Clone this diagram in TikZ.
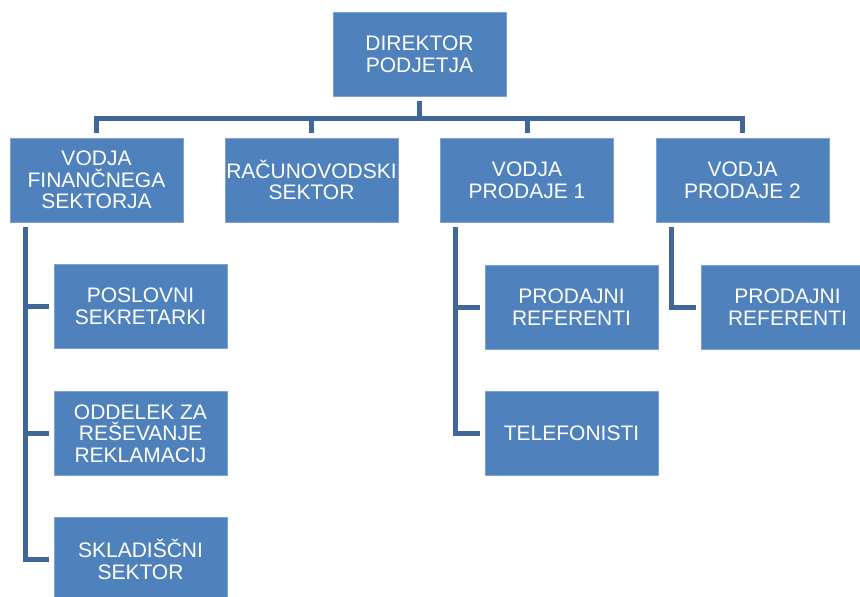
\documentclass[tikz,border=0pt]{standalone}
\usepackage{fontspec}
\setmainfont{Liberation Sans}
\definecolor{boxblue}{HTML}{4F81BD}
\definecolor{boxedge}{HTML}{7FA3D1}
\definecolor{linkblue}{HTML}{41679A}
\begin{document}
\begin{tikzpicture}
    [x=0.75pt, y=-0.75pt,
     unit/.style={fill=boxblue, draw=boxedge, line width=0.4pt, text=white,
                  minimum width=129.75pt, minimum height=63pt, inner sep=0pt,
                  outer sep=3.75pt, align=center,
                  font=\fontsize{15.75}{16.2}\selectfont},
     link/.style={draw=linkblue, line width=3.75pt}]
    \useasboundingbox (0, 0) rectangle (860, 596);
    \node[unit] (dir) at (419.5, 54) {DIREKTOR\\PODJETJA};
    \node[unit] (fin) at (96.5, 180) {VODJA\\FINANČNEGA\\SEKTORJA};
    \node[unit] (rac) at (311.5, 180) {RAČUNOVODSKI\\SEKTOR};
    \node[unit] (vp1) at (527, 180) {VODJA\\PRODAJE 1};
    \node[unit] (vp2) at (742.5, 180) {VODJA\\PRODAJE 2};
    \node[unit] (sek) at (140.5, 306.5) {POSLOVNI\\SEKRETARKI};
    \node[unit] (rek) at (140.5, 433.5) {ODDELEK ZA\\REŠEVANJE\\REKLAMACIJ};
    \node[unit] (skl) at (140.5, 559.5) {SKLADIŠČNI\\SEKTOR};
    \node[unit] (ref1) at (571.5, 307) {PRODAJNI\\REFERENTI};
    \node[unit] (tel) at (571.5, 433.5) {TELEFONISTI};
    \node[unit] (ref2) at (787.5, 307) {PRODAJNI\\REFERENTI};
    \coordinate (bus) at (419.5, 118);
    \draw[link] (dir) -- (bus);
    \draw[link] (fin.north) |- (bus) -| (vp2.north);
    \foreach \n in {rac, vp1}
        \draw[link] (\n.north) -- (\n.north |- bus);
    \coordinate (fintop) at ([xshift=15pt]fin.south west);
    \coordinate (vp1top) at ([xshift=15pt]vp1.south west);
    \coordinate (vp2top) at ([xshift=15pt]vp2.south west);
    \draw[link] (fintop) |- (skl.west);
    \foreach \n in {sek, rek}
        \draw[link] (\n.west) -- (\n.west -| fintop);
    \draw[link] (vp1top) |- (tel.west);
    \draw[link] (ref1.west) -- (ref1.west -| vp1top);
    \draw[link] (vp2top) |- (ref2.west);
\end{tikzpicture}
\end{document}
